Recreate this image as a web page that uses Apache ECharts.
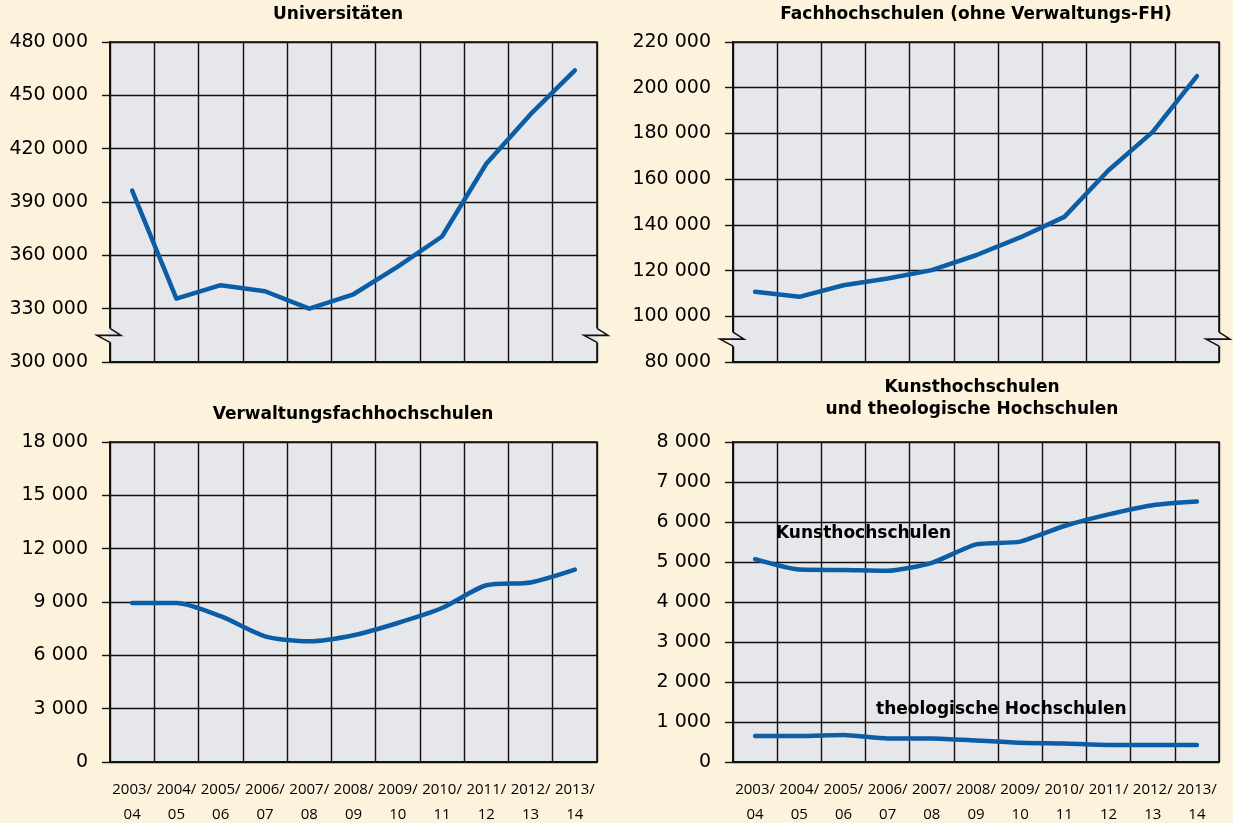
<!DOCTYPE html>
<html>
<head>
<meta charset="utf-8">
<title>Studierende nach Hochschularten</title>
<script src="https://cdn.jsdelivr.net/npm/echarts@6/dist/echarts.min.js"></script>
<style>
  html, body { margin: 0; padding: 0; background: #fdf2dc; }
  #chart { width: 1233px; height: 823px; }
</style>
</head>
<body>
<div id="chart"></div>
<script>
// Wintersemester
const years = ['2003/\n04', '2004/\n05', '2005/\n06', '2006/\n07', '2007/\n08', '2008/\n09',
  '2009/\n10', '2010/\n11', '2011/\n12', '2012/\n13', '2013/\n14']

const uniValues = [396400, 335700, 343200, 339800, 330000, 338100, 353600, 370600, 411500, 439400, 464000]
const fhValues = [110700, 108500, 113600, 116500, 120200, 126700, 134500, 143500, 163900, 180700, 205100]
const vfhValues = [8950, 8950, 8200, 7070, 6790, 7130, 7820, 8660, 9940, 10100, 10820]
const kunstValues = [5070, 4810, 4800, 4780, 4980, 5440, 5510, 5900, 6190, 6420, 6510]
const theolValues = [650, 650, 675, 590, 590, 540, 480, 460, 425, 425, 425]

// [min, max, interval] der y-Achsen
const uniAxis = [300000, 480000, 30000]
const fhAxis = [80000, 220000, 20000]
const vfhAxis = [0, 18000, 3000]
const khAxis = [0, 8000, 1000]

const BG = '#fdf2dc'
const PLOT = '#e6e7ea'
const INK = '#111'
const BLUE = '#0b5ea5'

const chart = echarts.init(document.getElementById('chart'))

const fmt = v => String(v).replace(/\B(?=(\d{3})+(?!\d))/g, ' ')

const grids = [
  { left: 110, top: 42, width: 487, height: 320 },
  { left: 733, top: 42, width: 486, height: 320 },
  { left: 110, top: 442, width: 487, height: 320 },
  { left: 733, top: 442, width: 486, height: 320 },
].map(g => Object.assign(g, {
  show: true,
  outerBoundsMode: 'none',
  containLabel: false,
  backgroundColor: PLOT,
  borderColor: INK,
  borderWidth: 1.5,
}))

function xAxis(idx, showLabels) {
  return {
    type: 'category',
    gridIndex: idx,
    data: years,
    boundaryGap: true,
    axisLine: { lineStyle: { color: INK, width: 2 } },
    axisTick: { show: false },
    axisLabel: {
      show: showLabels,
      interval: 0,
      margin: 15,
      lineHeight: 25,
      color: '#000',
      fontFamily: 'Open Sans',
      fontSize: 15,
    },
    splitLine: { show: true, interval: 0, lineStyle: { color: INK, width: 1.4 } },
  }
}

function yAxis(idx, range) {
  return {
    type: 'value',
    gridIndex: idx,
    min: range[0],
    max: range[1],
    interval: range[2],
    axisLine: { show: true, lineStyle: { color: INK, width: 2 } },
    axisTick: { show: true, length: 8, lineStyle: { color: INK, width: 1.4 } },
    axisLabel: {
      margin: 22,
      color: '#000',
      fontFamily: 'DejaVu Sans',
      fontSize: 19,
      formatter: fmt,
    },
    splitLine: { show: true, lineStyle: { color: INK, width: 1.4 } },
  }
}

function line(idx, data, smooth) {
  return {
    type: 'line',
    xAxisIndex: idx,
    yAxisIndex: idx,
    data: data,
    smooth: smooth,
    symbol: 'none',
    lineStyle: { color: BLUE, width: 4.5, cap: 'round', join: 'round' },
    silent: true,
    z: 5,
  }
}

const titleFont = 'bold 17px "DejaVu Sans"'
function text(str, x, y, align) {
  return {
    type: 'text',
    x: x,
    y: y,
    z: 10,
    style: {
      text: str,
      font: titleFont,
      fill: '#000',
      align: align || 'center',
      textAlign: align || 'center',
      verticalAlign: 'middle',
      textVerticalAlign: 'middle',
    },
  }
}

chart.setOption({
  backgroundColor: BG,
  animation: false,
  grid: grids,
  xAxis: [xAxis(0, false), xAxis(1, false), xAxis(2, true), xAxis(3, true)],
  yAxis: [yAxis(0, uniAxis), yAxis(1, fhAxis), yAxis(2, vfhAxis), yAxis(3, khAxis)],
  series: [
    line(0, uniValues, false),
    line(1, fhValues, false),
    line(2, vfhValues, 0.25),
    line(3, kunstValues, 0.2),
    line(3, theolValues, 0.2),
  ],
})

// Achsenbruch-Zeichen zwischen erstem und zweitem Tick der oberen Diagramme
const breakMarks = []
;[[0, uniAxis], [1, fhAxis]].forEach(([idx, range]) => {
  const g = grids[idx]
  const y = chart.convertToPixel({ yAxisIndex: idx }, range[0] + range[2] / 2)
  ;[g.left, g.left + g.width].forEach(x => {
    breakMarks.push({
      type: 'rect',
      z: 20,
      shape: { x: x - 2, y: y - 7, width: 4, height: 14 },
      style: { fill: PLOT },
    })
    breakMarks.push({
      type: 'polyline',
      z: 21,
      shape: { points: [[x, y - 7], [x + 11, y], [x - 13, y], [x, y + 7]] },
      style: { stroke: INK, lineWidth: 1.6, fill: null },
    })
  })
})

chart.setOption({
  graphic: [
    text('Universitäten', 338, 15),
    text('Fachhochschulen (ohne Verwaltungs-FH)', 976, 15),
    text('Verwaltungsfachhochschulen', 353, 415),
    text('Kunsthochschulen', 972, 388),
    text('und theologische Hochschulen', 972, 410),
    text('Kunsthochschulen', 776, 534, 'left'),
    text('theologische Hochschulen', 876, 710, 'left'),
  ].concat(breakMarks),
})
</script>
</body>
</html>
